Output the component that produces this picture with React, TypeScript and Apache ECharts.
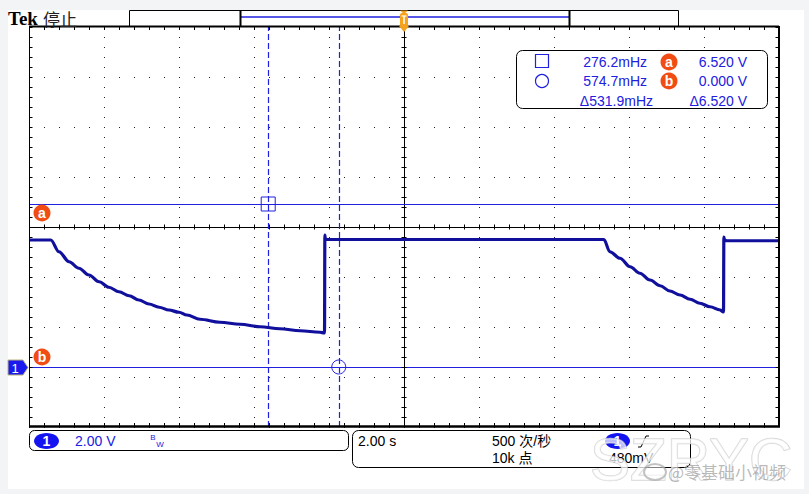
import React, { useEffect, useRef } from "react";
import * as echarts from "echarts";

// ---- data ----
const timeS = [
  -10, -9.42, -9.2, -8.93, -8.67, -8.4, -8.13, -7.87, -7.6, -7.33, -7.07, -6.8, -6.53, -6.27, -6.0, -5.79, -5.44, -4.91, -4.37, -3.84, -3.31, -2.77, -2.24, -2.12,
  -2.11, -2.1, -2.04,
  5.33, 5.49, 5.76, 6.03, 6.29, 6.56, 6.83, 7.09, 7.36, 7.63, 7.89, 8.16, 8.43, 8.52,
  8.53, 8.55, 8.62, 10,
];
const volts = [
  5.08, 5.08, 4.61, 4.21, 3.95, 3.68, 3.41, 3.19, 3.01, 2.85, 2.68, 2.52, 2.39, 2.28, 2.19, 2.08, 1.91, 1.79, 1.71, 1.61, 1.53, 1.45, 1.39, 1.36,
  5.28, 5.12, 5.1,
  5.1, 4.61, 4.35, 4.01, 3.75, 3.48, 3.25, 3.04, 2.88, 2.71, 2.55, 2.41, 2.28, 2.2,
  5.2, 5.06, 5.05, 5.05,
];
const cursorTimes = [-3.621, -1.74];
const cursorVolts = [6.52, 0];
const freqReadouts = ["276.2mHz", "574.7mHz", "Δ531.9mHz"];
const voltReadouts = ["6.520 V", "0.000 V", "Δ6.520 V"];
const cursorNames = ["a", "b"];
const timeRange = [-10, 10];
const timeInterval = 2;
const voltRange = [-2.4, 13.6];
const divRange = [0, 8];
const ch1Label = "2.00 V";
const timebaseLabel = "2.00 s";
const rateLabel = "500 次/秒";
const pointsLabel = "10k 点";
const trigLevelLabel = "480mV";

// ---- layout ----
const W = 809;
const H = 494;
const GL = 29;
const GT = 27;
const GW = 750;
const GH = 400;
const BLUE = "#2020e0";
const TRACE = "#10109c";
const ORANGE = "#f04c14";
const TRIG = "#f5a21c";
const SANS = '"Liberation Sans", "Noto Sans CJK SC", sans-serif';
const CJK = '"Noto Sans CJK SC", "Liberation Sans", sans-serif';

function txt(text: string, x: number, y: number, opts: any = {}) {
  return {
    type: "text",
    x,
    y,
    z: opts.z ?? 30,
    style: {
      text,
      fill: opts.fill ?? "#000",
      fontSize: opts.size ?? 14,
      fontFamily: opts.family ?? SANS,
      fontWeight: opts.weight ?? "normal",
      align: opts.align ?? "left",
      textAlign: opts.align ?? "left",
      verticalAlign: "middle",
      textVerticalAlign: "middle",
      opacity: opts.opacity ?? 1,
      stroke: opts.stroke,
      lineWidth: opts.lineWidth,
    },
  };
}

function badge(letter: string, cx: number, cy: number) {
  return [
    { type: "circle", z: 30, shape: { cx, cy, r: 8.5 }, style: { fill: ORANGE } },
    txt(letter, cx, cy - 0.5, { fill: "#fff", weight: "bold", size: 14, align: "center", z: 31 }),
  ];
}

function line(x1: number, y1: number, x2: number, y2: number, style: any, z = 20) {
  return { type: "line", z, shape: { x1, y1, x2, y2 }, style: { stroke: "#000", lineWidth: 1, ...style } };
}

export default function App() {
  const ref = useRef<HTMLDivElement>(null);
  useEffect(() => {
    if (!ref.current) return;
    const chart = echarts.init(ref.current, undefined, { renderer: "svg" });
    const data = timeS.map((t, i) => [t, volts[i]]);
    const centerV = (voltRange[0] + voltRange[1]) / 2;

    const graphic: any[] = [
      // grey frame
      { type: "rect", z: 1, shape: { x: 0, y: 0, width: W, height: 10 }, style: { fill: "#f3f4f6" } },
      { type: "rect", z: 1, shape: { x: 0, y: 0, width: 8, height: H }, style: { fill: "#f3f4f6" } },
      { type: "rect", z: 1, shape: { x: 804, y: 0, width: 5, height: H }, style: { fill: "#f3f4f6" } },
      { type: "rect", z: 1, shape: { x: 0, y: 489, width: W, height: 5 }, style: { fill: "#f3f4f6" } },
      // title
      txt("Tek", 8, 18, { size: 19, weight: "bold", family: '"Liberation Serif", serif' }),
      txt("停止", 43, 18.5, { size: 17, family: CJK, fill: "#222" }),
      // record bar
      { type: "rect", z: 20, shape: { x: 129.5, y: 10.5, width: 549, height: 16 }, style: { fill: "#fff", stroke: "#000", lineWidth: 1 } },
      line(241, 17, 569, 17, { stroke: BLUE, lineWidth: 1.5 }, 21),
      line(240.5, 11, 240.5, 26, { lineWidth: 2 }, 21),
      line(569.5, 11, 569.5, 26, { lineWidth: 2 }, 21),
      // borders
      line(GL, 26.5, GL + GW, 26.5, { lineWidth: 2 }, 22),
      line(GL, 426.5, GL + GW + 1, 426.5, { lineWidth: 2.5 }, 22),
      line(29.5, 26, 29.5, 427, { lineWidth: 1 }, 22),
      line(779, 26, 779, 427, { lineWidth: 2 }, 22),
      // border ticks
      line(GL, 28.5, GL + GW, 28.5, { lineWidth: 3, lineDash: [1, 14] }, 21),
      line(GL, 424.5, GL + GW, 424.5, { lineWidth: 3, lineDash: [1, 14] }, 21),
      line(31, GT, 31, GT + GH, { lineWidth: 3, lineDash: [1, 9] }, 21),
      line(777, GT, 777, GT + GH, { lineWidth: 3, lineDash: [1, 9] }, 21),
      // center ticks
      line(GL, 227, GL + GW, 227, { lineWidth: 5, lineDash: [1, 14] }, 21),
      line(404, GT, 404, GT + GH, { lineWidth: 5, lineDash: [1, 9] }, 21),
      // trigger marker
      { type: "polygon", z: 40, shape: { points: [[400, 10.5], [408, 10.5], [404, 14]] }, style: { fill: TRIG } },
      { type: "rect", z: 40, shape: { x: 400, y: 13, width: 8, height: 14, r: 2 }, style: { fill: TRIG } },
      { type: "polygon", z: 40, shape: { points: [[399, 26], [409, 26], [404, 32]] }, style: { fill: TRIG } },
      line(401.5, 16, 406.5, 16, { stroke: "#fff", lineWidth: 1.2 }, 41),
      line(404, 16, 404, 24, { stroke: "#fff", lineWidth: 1.5 }, 41),
      // readout box
      { type: "rect", z: 25, shape: { x: 516.5, y: 50.5, width: 251, height: 58, r: 6 }, style: { fill: "#fff", stroke: "#000", lineWidth: 1 } },
      { type: "rect", z: 30, shape: { x: 535.5, y: 54.5, width: 13, height: 13 }, style: { fill: "none", stroke: BLUE, lineWidth: 1.2 } },
      { type: "circle", z: 30, shape: { cx: 542, cy: 81, r: 6.5 }, style: { fill: "none", stroke: BLUE, lineWidth: 1.2 } },
      txt(freqReadouts[0], 647, 62, { fill: BLUE, align: "right" }),
      txt(freqReadouts[1], 647, 81, { fill: BLUE, align: "right" }),
      txt(freqReadouts[2], 653, 101, { fill: BLUE, align: "right" }),
      ...badge(cursorNames[0], 669, 62),
      ...badge(cursorNames[1], 669, 81),
      txt(voltReadouts[0], 747, 62, { fill: BLUE, align: "right" }),
      txt(voltReadouts[1], 747, 81, { fill: BLUE, align: "right" }),
      txt(voltReadouts[2], 747, 101, { fill: BLUE, align: "right" }),
      // cursor badges in plot
      ...badge(cursorNames[0], 42, 213),
      ...badge(cursorNames[1], 42, 357),
      // channel ground marker
      { type: "polygon", z: 30, shape: { points: [[8, 360], [23, 360], [28, 367.5], [23, 375], [8, 375]] }, style: { fill: "#1a1aee", stroke: "#b9b27a", lineWidth: 1 } },
      txt("1", 15, 368, { fill: "#fff", size: 13, align: "center", z: 31 }),
      // bottom boxes
      { type: "rect", z: 25, shape: { x: 29.5, y: 430.5, width: 319, height: 20, r: 5 }, style: { fill: "#fff", stroke: "#000", lineWidth: 1 } },
      { type: "ellipse", z: 30, shape: { cx: 46.5, cy: 441, rx: 12.5, ry: 8 }, style: { fill: "#1414f0" } },
      txt("1", 46.5, 441, { fill: "#fff", size: 14, align: "center", weight: "bold", z: 31 }),
      txt(ch1Label, 75, 441, { fill: BLUE }),
      txt("B", 153, 437.5, { fill: BLUE, size: 8, align: "center" }),
      txt("W", 160, 444, { fill: BLUE, size: 8, align: "center" }),
      { type: "rect", z: 25, shape: { x: 352.5, y: 430.5, width: 338, height: 37, r: 6 }, style: { fill: "#fff", stroke: "#000", lineWidth: 1 } },
      txt(timebaseLabel, 358, 441),
      txt(rateLabel, 492, 441),
      txt(pointsLabel, 492, 458),
      { type: "ellipse", z: 30, shape: { cx: 617.5, cy: 441, rx: 12.5, ry: 8 }, style: { fill: "#1414f0" } },
      txt("1", 617.5, 441, { fill: "#fff", size: 14, align: "center", weight: "bold", z: 31 }),
      { type: "polyline", z: 30, shape: { points: [[638, 447], [641, 447], [646, 436], [649, 436]] }, style: { stroke: "#000", lineWidth: 1, fill: "none" } },
      txt(trigLevelLabel, 609, 458),
      // watermark
      txt("SZRYC", 590, 459, { size: 60, fill: "rgba(255,255,255,0.72)", stroke: "rgba(200,200,200,0.75)", lineWidth: 1.5, z: 50 }),
      { type: "ellipse", z: 51, shape: { cx: 655, cy: 472, rx: 11, ry: 8 }, style: { fill: "rgba(255,255,255,0.5)", stroke: "rgba(170,170,170,0.7)", lineWidth: 2 } },
      txt("@零基础小视频", 668, 471, { fill: "rgba(140,140,140,0.6)", size: 17, family: CJK, z: 51 }),
    ];

    chart.setOption({
      animation: false,
      backgroundColor: "#ffffff",
      grid: { left: GL, top: GT, width: GW, height: GH, containLabel: false },
      xAxis: {
        type: "value",
        min: timeRange[0],
        max: timeRange[1],
        interval: timeInterval,
        axisLine: { show: false },
        axisTick: { show: false },
        axisLabel: { show: false },
        splitLine: { show: true, lineStyle: { color: "#222", width: 1, type: [1, 9] } },
      },
      yAxis: [
        {
          type: "value",
          min: divRange[0],
          max: divRange[1],
          interval: 1,
          axisLine: { show: false },
          axisTick: { show: false },
          axisLabel: { show: false },
          splitLine: { show: true, lineStyle: { color: "#222", width: 1, type: [1, 14] } },
        },
        {
          type: "value",
          min: voltRange[0],
          max: voltRange[1],
          axisLine: { show: false },
          axisTick: { show: false },
          axisLabel: { show: false },
          splitLine: { show: false },
        },
      ],
      series: [
        {
          type: "line",
          yAxisIndex: 1,
          data,
          symbol: "none",
          smooth: 0.35,
          smoothMonotone: "x",
          z: 5,
          lineStyle: { color: TRACE, width: 3.2 },
          markLine: {
            silent: true,
            symbol: ["none", "none"],
            label: { show: false },
            data: [
              { xAxis: 0, lineStyle: { color: "#000", width: 1, type: "solid" } },
              { yAxis: centerV, lineStyle: { color: "#000", width: 1, type: "solid" } },
              { yAxis: cursorVolts[0], lineStyle: { color: BLUE, width: 1, type: "solid" } },
              { yAxis: cursorVolts[1], lineStyle: { color: BLUE, width: 1, type: "solid" } },
              { xAxis: cursorTimes[0], lineStyle: { color: BLUE, width: 1.2, type: [6, 3] } },
              { xAxis: cursorTimes[1], lineStyle: { color: BLUE, width: 1.2, type: [6, 3] } },
            ],
          },
          markPoint: {
            silent: true,
            label: { show: false },
            itemStyle: { color: "rgba(0,0,0,0)", borderColor: BLUE, borderWidth: 1 },
            data: [
              { coord: [cursorTimes[0], cursorVolts[0]], symbol: "rect", symbolSize: 14 },
              { coord: [cursorTimes[1], cursorVolts[1]], symbol: "circle", symbolSize: 14 },
            ],
          },
        },
      ],
      graphic,
    });
    return () => chart.dispose();
  }, []);
  return <div ref={ref} style={{ position: "fixed", left: 0, top: 0, width: W, height: H }} />;
}
